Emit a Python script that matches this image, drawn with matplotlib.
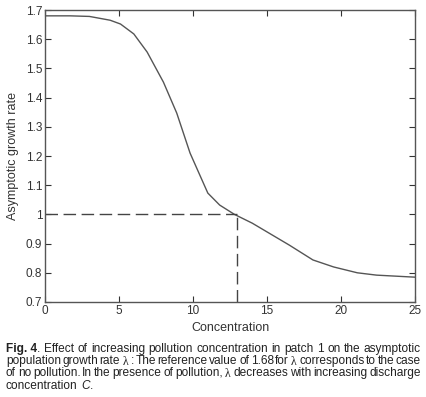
import matplotlib
matplotlib.use("Agg")
import matplotlib.pyplot as plt

# curve
conc = [0, 1.7, 3.0, 4.4, 5.1, 6.0, 6.9, 8.0, 8.9, 9.8, 10.5, 11.0, 11.8, 12.8,
        14.0, 15.0, 16.5, 18.1, 19.5, 21.1, 22.4, 25.0]
rate = [1.68, 1.68, 1.678, 1.665, 1.652, 1.618, 1.556, 1.453, 1.347, 1.21, 1.13,
        1.073, 1.032, 1.0, 0.97, 0.94, 0.895, 0.844, 0.82, 0.80, 0.792, 0.785]

ref_conc = 13
ref_rate = 1.0

LAM = "$\\mathrm{\\lambda}$"
caption_lines = [
    [("Fig. 4", True), (". Effect of increasing pollution concentration in patch 1 on the asymptotic", False)],
    [("population growth rate " + LAM + " : The reference value of 1.68 for " + LAM + " corresponds to the case", False)],
    [("of no pollution. In the presence of pollution, " + LAM + " decreases with increasing discharge", False)],
    [("concentration $C$.", False)],
]

plt.rcParams['font.family'] = ['Liberation Sans', 'DejaVu Sans']
plt.rcParams['mathtext.fontset'] = 'custom'
plt.rcParams['mathtext.rm'] = 'Liberation Serif'
plt.rcParams['mathtext.it'] = 'Liberation Sans:italic'

fig = plt.figure(figsize=(4.27, 3.97), dpi=100)
ax = fig.add_axes([0.1054, 0.2393, 0.8666, 0.7355])

ax.plot(conc, rate, color='#555555', lw=1.0)
ax.plot([0, ref_conc], [ref_rate, ref_rate], color='#444444', lw=1.0, dashes=(9, 4))
ax.plot([ref_conc, ref_conc], [0.7, ref_rate], color='#444444', lw=1.0, dashes=(9, 4))

ax.set_xlim(0, 25)
ax.set_ylim(0.7, 1.7)
ax.set_xticks([0, 5, 10, 15, 20, 25])
ax.set_yticks([0.7, 0.8, 0.9, 1, 1.1, 1.2, 1.3, 1.4, 1.5, 1.6, 1.7])
ax.set_yticklabels(['0.7', '0.8', '0.9', '1', '1.1', '1.2', '1.3', '1.4', '1.5', '1.6', '1.7'])
ax.tick_params(direction='in', top=True, right=True, length=4, width=0.8,
               labelsize=8.5, colors='#333333', pad=2)
for s in ax.spines.values():
    s.set_color('#555555')
    s.set_linewidth(1.0)
ax.set_xlabel('Concentration', fontsize=9, color='#333333', labelpad=4)
ax.set_ylabel('Asymptotic growth rate', fontsize=9, color='#333333', labelpad=5)

# caption, justified by hand
x0, x1 = 6 / 427, 421 / 427
y_top = 1 - 349 / 397
line_h = 12.2 / 397
fs = 8.6
fig.canvas.draw()
r = fig.canvas.get_renderer()
for i, parts in enumerate(caption_lines):
    y = y_top - i * line_h
    words = []
    for txt, bold in parts:
        if bold:
            words.append((txt, bold, False))
        else:
            toks = txt.split(' ')
            for j, tkn in enumerate(toks):
                if tkn == '':
                    continue
                glue = (j == 0 and not txt.startswith(' ') and len(words) > 0)
                words.append((tkn, bold, glue))
    groups = []
    for tkn, bold, glue in words:
        if glue and groups:
            groups[-1].append((tkn, bold))
        else:
            groups.append([(tkn, bold)])
    artists = []
    widths = []
    for g in groups:
        ws = []
        for tkn, bold in g:
            t = fig.text(0, y, tkn, fontsize=fs, va='center', ha='left',
                         fontweight='bold' if bold else 'normal', color='#222222')
            bb = t.get_window_extent(renderer=r)
            ws.append(bb.width / fig.bbox.width)
            artists.append(t)
        widths.append(ws)
    total = sum(sum(w) for w in widths)
    n_gaps = len(groups) - 1
    if i < len(caption_lines) - 1 and n_gaps > 0:
        gap = (x1 - x0 - total) / n_gaps
    else:
        gap = 0.007
    x = x0
    k = 0
    for ws in widths:
        for w in ws:
            artists[k].set_x(x)
            x += w
            k += 1
        x += gap

fig.savefig('out.png', dpi=100)
